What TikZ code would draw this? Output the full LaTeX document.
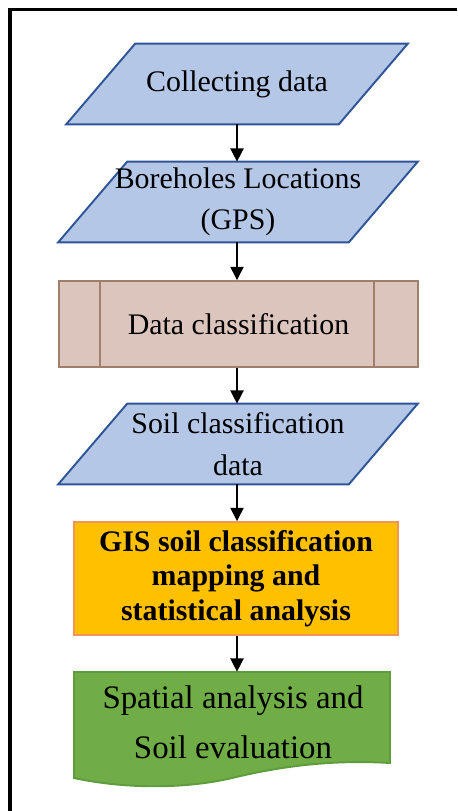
\documentclass[tikz,border=0pt]{standalone}
\usepackage{fontspec}
\setmainfont{Liberation Serif}
\usetikzlibrary{arrows.meta,backgrounds}

\definecolor{ioblue}{HTML}{B4C7E7}
\definecolor{ioline}{HTML}{2F5597}
\definecolor{procfill}{HTML}{DCC5BD}
\definecolor{procline}{HTML}{A0806C}
\definecolor{gisfill}{HTML}{FFC000}
\definecolor{gisline}{HTML}{F4945A}
\definecolor{docfill}{HTML}{70AD47}
\definecolor{docline}{HTML}{5E9C3E}

\tikzset{
	iobox/.style={rectangle, minimum height=1.6cm, inner sep=1pt, align=center},
	ioshape/.style={draw=ioline, fill=ioblue, line width=1.1pt},
	procbox/.style={rectangle, draw=procline, fill=procfill, line width=1.1pt,
		minimum width=7.18cm, minimum height=1.72cm},
	gisbox/.style={rectangle, draw=gisline, fill=gisfill, line width=1.1pt,
		minimum width=6.48cm, minimum height=2.26cm, align=center,
		font=\fontsize{17}{19.8}\selectfont\bfseries},
	flow/.style={-{Triangle[width=7.5pt,length=7.5pt]}, line width=0.8pt},
}

\begin{document}
\begin{tikzpicture}[x=0.02cm, y=-0.02cm, font=\fontsize{17}{23.5}\selectfont]
	\useasboundingbox (0,0) rectangle (457,811);
	%frame
	\draw[line width=1.8pt] (10,811) -- (10,9.5) -- (457,9.5);
	%boxes
	\node[iobox, minimum width=5.44cm] (collect) at (237,84) {Collecting data};
	\node[iobox, minimum width=5.8cm] (gps) at (238,202) {Boreholes Locations\\(GPS)};
	\node[procbox] (classify) at (238.5,324) {Data classification};
	\draw[procline, line width=1.1pt] (classify.north west) ++(42,0) -- ++(0,86)
		(classify.north east) ++(-45,0) -- ++(0,86);
	\node[iobox, minimum width=5.8cm] (soildata) at (238,444) {Soil classification\\data};
	\node[gisbox] (gis) at (236,578.5) {GIS soil classification\\mapping and\\statistical analysis};
	\node[minimum width=6.32cm, minimum height=2cm, align=center,
		font=\fontsize{18.7}{28.3}\selectfont] (spatial) at (233,722)
		{Spatial analysis and\\Soil evaluation};
	%slanted data boxes and document shape
	\begin{scope}[on background layer]
		\foreach \n in {collect,gps,soildata}
		\filldraw[ioshape] ([xshift=0.69cm]\n.north west) -- ([xshift=0.69cm]\n.north east)
			-- ([xshift=-0.69cm]\n.south east) -- ([xshift=-0.69cm]\n.south west) -- cycle;
		\filldraw[draw=docline, fill=docfill, line width=1.1pt]
		(74,672) -- (390,672) -- (390,763)
		.. controls (340,760) and (290,764) .. (232,778)
		.. controls (190,788) and (130,790) .. (74,778) -- cycle;
	\end{scope}
	%arrows
	\draw[flow] (collect.south) -- (gps.north -| collect.south);
	\draw[flow] (gps.south -| collect.south) -- (classify.north -| collect.south);
	\draw[flow] (classify.south -| collect.south) -- (soildata.north -| collect.south);
	\draw[flow] (soildata.south -| collect.south) -- (gis.north -| collect.south);
	\draw[flow] (gis.south -| collect.south) -- (spatial.north -| collect.south);
\end{tikzpicture}
\end{document}
